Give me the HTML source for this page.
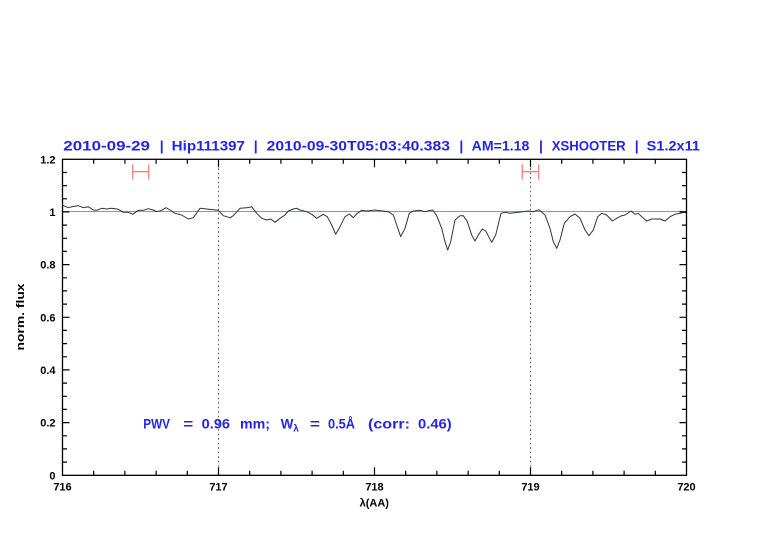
<!DOCTYPE html>
<html><head><meta charset="utf-8"><style>
html,body{margin:0;padding:0;background:#fff;}
svg{display:block;}
text{font-family:"Liberation Sans",sans-serif;}
</style></head><body>
<svg width="782" height="542" viewBox="0 0 782 542" xmlns="http://www.w3.org/2000/svg">
<rect width="782" height="542" fill="#fff"/>
<!-- title -->
<g font-size="14" font-weight="bold" fill="#2424e6">
<text x="63.3" y="150.3" textLength="86.7" lengthAdjust="spacingAndGlyphs">2010-09-29</text>
<text x="161.7" y="150.3" text-anchor="middle">|</text>
<text x="171.7" y="150.3" textLength="73.3" lengthAdjust="spacingAndGlyphs">Hip111397</text>
<text x="255.7" y="150.3" text-anchor="middle">|</text>
<text x="266.7" y="150.3" textLength="183.3" lengthAdjust="spacingAndGlyphs">2010-09-30T05:03:40.383</text>
<text x="461.3" y="150.3" text-anchor="middle">|</text>
<text x="471.7" y="150.3" textLength="57.6" lengthAdjust="spacingAndGlyphs">AM=1.18</text>
<text x="541" y="150.3" text-anchor="middle">|</text>
<text x="551.7" y="150.3" textLength="74" lengthAdjust="spacingAndGlyphs">XSHOOTER</text>
<text x="636.7" y="150.3" text-anchor="middle">|</text>
<text x="646.7" y="150.3" textLength="53.3" lengthAdjust="spacingAndGlyphs">S1.2x11</text>
</g>
<!-- dotted verticals -->
<line x1="218.5" y1="159.3" x2="218.5" y2="475.3" stroke="#555" stroke-width="1" stroke-dasharray="1.5,3"/>
<line x1="530.5" y1="159.3" x2="530.5" y2="475.3" stroke="#555" stroke-width="1" stroke-dasharray="1.5,3"/>
<!-- reference line at 1 -->
<line x1="62.5" y1="211.5" x2="686.5" y2="211.5" stroke="#f07070" stroke-width="1"/>
<!-- error bars -->
<g stroke="#f48080" stroke-width="1.3" fill="none">
<line x1="132.7" y1="171.7" x2="148.7" y2="171.7"/>
<line x1="132.7" y1="164.3" x2="132.7" y2="179.5"/>
<line x1="148.7" y1="164.3" x2="148.7" y2="179.5"/>
<line x1="522.3" y1="171.7" x2="538.7" y2="171.7"/>
<line x1="522.3" y1="164.3" x2="522.3" y2="179.5"/>
<line x1="538.7" y1="164.3" x2="538.7" y2="179.5"/>
</g>
<!-- spectrum -->
<polyline fill="none" stroke="#333" stroke-width="1" stroke-linejoin="round" points="
62.5,204.8 63.3,205.7 68.3,207.7 73,206.5 78.3,205.7 83.3,207.7 88.3,206.7 93.3,210 96.7,210.3 101.7,208.3 106.7,209 111.7,208.3 118.3,209.3 123.3,212.3 128.3,212.3 132.7,214.3 138.3,210.3 143.3,210.3 148.3,208.7 153.3,210 156.7,211.7 161.7,210.3 166,207.7 170,210 175,213.3 181.7,215 188.3,219 193.3,217.7 200,208.3 206.7,209 218.3,210.3 223.3,215.7 230,217.7 233.3,215.7 240,208.3 246.7,207.7 251.7,206.7 256.7,213.3 261.7,218.3 266.7,220 270.7,219 275,222.3 280,218.3 285,215 288.3,211 293.3,209 296.7,208.3 300,210 306.7,211.7 311.7,214.3 316.7,218.3 323.3,214.3 327.3,216.7 331.7,225 335.7,234.3 340,226.7 345,216.7 349.3,214 353.3,217.7 357.3,213.3 361.7,210.3 366.7,211 375,210 383.3,211 388.3,211.7 393.3,215 396.7,225 400.7,236.7 405,228.3 409.3,213.3 413.3,211 420,210.3 425,211.7 428.3,210.7 432.7,210 436.7,215.7 441.7,228.3 445,241.7 447.7,250 450.7,241.7 455,220 460,215.7 463.3,215.7 467.3,221.7 471.7,235 475,241 478.3,235 482.3,229 485.7,231 491.7,242.3 495.7,235 501,213.3 505,212.3 510,213.3 518.3,212.3 528.3,211 533.3,211.7 539,209.7 545,215 550,228.3 553.3,241.7 556.7,248.3 560,240 564.3,223.3 570,216.7 575,214 580,218.3 585,230 589,235.7 593.3,230 597.7,216.7 601.7,213.3 606.7,215 612.3,221 616.7,218.3 621.7,215.7 625,215 631,211 635,214.3 638.3,213.3 641.7,216.7 646.7,221 651.7,219 660,219 665,221 670,216.7 675,214.3 680,213.3 684.3,212.3 686.5,213"/>
<!-- frame -->
<rect x="62.5" y="159.3" width="624" height="316" fill="none" stroke="#000" stroke-width="1.3"/>
<!-- ticks -->
<g stroke="#000" stroke-width="1.2">
<line x1="218.5" y1="475.3" x2="218.5" y2="467.3"/><line x1="374.5" y1="475.3" x2="374.5" y2="467.3"/><line x1="530.5" y1="475.3" x2="530.5" y2="467.3"/>
<line x1="218.5" y1="159.3" x2="218.5" y2="167.3"/><line x1="374.5" y1="159.3" x2="374.5" y2="167.3"/><line x1="530.5" y1="159.3" x2="530.5" y2="167.3"/>
<path d="M93.7 475.3v-4.5M124.9 475.3v-4.5M156.1 475.3v-4.5M187.3 475.3v-4.5M249.7 475.3v-4.5M280.9 475.3v-4.5M312.1 475.3v-4.5M343.3 475.3v-4.5M405.7 475.3v-4.5M436.9 475.3v-4.5M468.1 475.3v-4.5M499.3 475.3v-4.5M561.7 475.3v-4.5M592.9 475.3v-4.5M624.1 475.3v-4.5M655.3 475.3v-4.5
M93.7 159.3v4.5M124.9 159.3v4.5M156.1 159.3v4.5M187.3 159.3v4.5M249.7 159.3v4.5M280.9 159.3v4.5M312.1 159.3v4.5M343.3 159.3v4.5M405.7 159.3v4.5M436.9 159.3v4.5M468.1 159.3v4.5M499.3 159.3v4.5M561.7 159.3v4.5M592.9 159.3v4.5M624.1 159.3v4.5M655.3 159.3v4.5"/>
<path d="M62.5 422.6h7M62.5 369.9h7M62.5 317.3h7M62.5 264.6h7M62.5 211.9h7
M686.5 422.6h-7M686.5 369.9h-7M686.5 317.3h-7M686.5 264.6h-7M686.5 211.9h-7"/>
<path d="M62.5 462.1h4.5M62.5 448.9h4.5M62.5 435.8h4.5M62.5 409.4h4.5M62.5 396.3h4.5M62.5 383.1h4.5M62.5 356.8h4.5M62.5 343.6h4.5M62.5 330.4h4.5M62.5 304.1h4.5M62.5 290.9h4.5M62.5 277.8h4.5M62.5 251.4h4.5M62.5 238.3h4.5M62.5 225.1h4.5M62.5 198.8h4.5M62.5 185.6h4.5M62.5 172.5h4.5
M686.5 462.1h-4.5M686.5 448.9h-4.5M686.5 435.8h-4.5M686.5 409.4h-4.5M686.5 396.3h-4.5M686.5 383.1h-4.5M686.5 356.8h-4.5M686.5 343.6h-4.5M686.5 330.4h-4.5M686.5 304.1h-4.5M686.5 290.9h-4.5M686.5 277.8h-4.5M686.5 251.4h-4.5M686.5 238.3h-4.5M686.5 225.1h-4.5M686.5 198.8h-4.5M686.5 185.6h-4.5M686.5 172.5h-4.5"/>
</g>
<!-- y tick labels -->
<g font-size="11" font-weight="bold" fill="#000" text-anchor="end">
<text x="55.5" y="479.3">0</text>
<text x="55.5" y="426.6">0.2</text>
<text x="55.5" y="373.9">0.4</text>
<text x="55.5" y="321.3">0.6</text>
<text x="55.5" y="268.6">0.8</text>
<text x="55.5" y="215.9">1</text>
<text x="55.5" y="163.3">1.2</text>
</g>
<!-- x tick labels -->
<g font-size="11" font-weight="bold" fill="#000" text-anchor="middle">
<text x="62.5" y="490.7">716</text>
<text x="218.5" y="490.7">717</text>
<text x="374.5" y="490.7">718</text>
<text x="530.5" y="490.7">719</text>
<text x="686.5" y="490.7">720</text>
<text x="374.3" y="506.7">λ(AA)</text>
</g>
<text transform="translate(24,317) rotate(-90)" font-size="11" font-weight="bold" fill="#000" text-anchor="middle" textLength="67" lengthAdjust="spacingAndGlyphs">norm. flux</text>
<!-- PWV annotation -->
<g font-size="14" font-weight="bold" fill="#2424e6">
<text x="143.3" y="428.3" textLength="26.7" lengthAdjust="spacingAndGlyphs">PWV</text>
<text x="183.3" y="428.3" textLength="10" lengthAdjust="spacingAndGlyphs">=</text>
<text x="201.7" y="428.3" textLength="28.3" lengthAdjust="spacingAndGlyphs">0.96</text>
<text x="240" y="428.3" textLength="30" lengthAdjust="spacingAndGlyphs">mm;</text>
<text x="280.7" y="428.3" textLength="12.6" lengthAdjust="spacingAndGlyphs">W</text>
<text x="293.3" y="431.5" font-size="10">λ</text>
<text x="310" y="428.3" textLength="10" lengthAdjust="spacingAndGlyphs">=</text>
<text x="328" y="428.3" textLength="27" lengthAdjust="spacingAndGlyphs">0.5Å</text>
<text x="368" y="428.3" textLength="42" lengthAdjust="spacingAndGlyphs">(corr:</text>
<text x="418" y="428.3" textLength="33.7" lengthAdjust="spacingAndGlyphs">0.46)</text>
</g>
</svg>
</body></html>
